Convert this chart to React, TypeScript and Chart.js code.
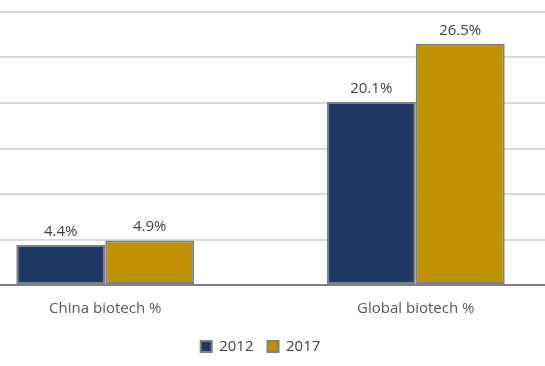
import React, { useEffect, useRef } from "react";
import { Chart, registerables } from "chart.js";

Chart.register(...registerables);

const categories = ["China biotech %", "Global biotech %"];
const seriesNames = ["2012", "2017"];
const values2012 = [4.4, 20.1];
const values2017 = [4.9, 26.5];
const yTicks = [0, 5, 10, 15, 20, 25, 30];

const labelPlugin = {
  id: "barLabels",
  afterDatasetsDraw(chart: any) {
    const ctx = chart.ctx;
    ctx.save();
    ctx.font = "15px 'Open Sans', sans-serif";
    ctx.fillStyle = "#404040";
    ctx.textAlign = "center";
    ctx.textBaseline = "bottom";
    chart.data.datasets.forEach((ds: any, i: number) => {
      const meta = chart.getDatasetMeta(i);
      meta.data.forEach((bar: any, j: number) => {
        ctx.fillText(ds.data[j].toFixed(1) + "%", bar.x, bar.y - 6);
      });
    });
    ctx.restore();
  },
};

export default function App() {
  const ref = useRef<HTMLCanvasElement>(null);
  useEffect(() => {
    if (!ref.current) return;
    const chart = new Chart(ref.current, {
      type: "bar",
      data: {
        labels: categories,
        datasets: [
          {
            label: seriesNames[0],
            data: values2012,
            backgroundColor: "#203864",
            borderColor: "#7f7f7f",
            borderWidth: 2,
            borderSkipped: false,
          },
          {
            label: seriesNames[1],
            data: values2017,
            backgroundColor: "#bf9000",
            borderColor: "#7f7f7f",
            borderWidth: 2,
            borderSkipped: false,
          },
        ],
      },
      options: {
        animation: false,
        responsive: true,
        maintainAspectRatio: false,
        layout: { padding: { top: 12, bottom: 2, left: 0, right: 0 } },
        datasets: {
          bar: { categoryPercentage: 0.573, barPercentage: 1 },
        },
        plugins: {
          legend: {
            position: "bottom",
            labels: {
              boxWidth: 11,
              boxHeight: 11,
              color: "#404040",
              font: { family: "'Open Sans', sans-serif", size: 15 },
              padding: 14,
            },
          },
          tooltip: { enabled: false },
        },
        scales: {
          x: {
            grid: { display: false },
            border: { color: "#808080", width: 2 },
            ticks: {
              color: "#595959",
              font: { family: "'Open Sans', sans-serif", size: 15 },
              padding: 7,
            },
          },
          y: {
            min: 0,
            max: 30,
            afterBuildTicks: (axis: any) => {
              axis.ticks = yTicks.map((v) => ({ value: v }));
            },
            ticks: { display: false },
            border: { display: false },
            grid: { color: "#d9d9d9", lineWidth: 2, drawTicks: false },
          },
        },
      },
      plugins: [labelPlugin],
    });
    return () => chart.destroy();
  }, []);
  return (
    <div
      style={{
        position: "fixed",
        left: 0,
        top: 0,
        width: 545,
        height: 366,
        overflow: "hidden",
        background: "#fff",
      }}
    >
      <div style={{ position: "absolute", left: -50, top: 0, width: 621, height: 366 }}>
        <canvas ref={ref} />
      </div>
    </div>
  );
}
